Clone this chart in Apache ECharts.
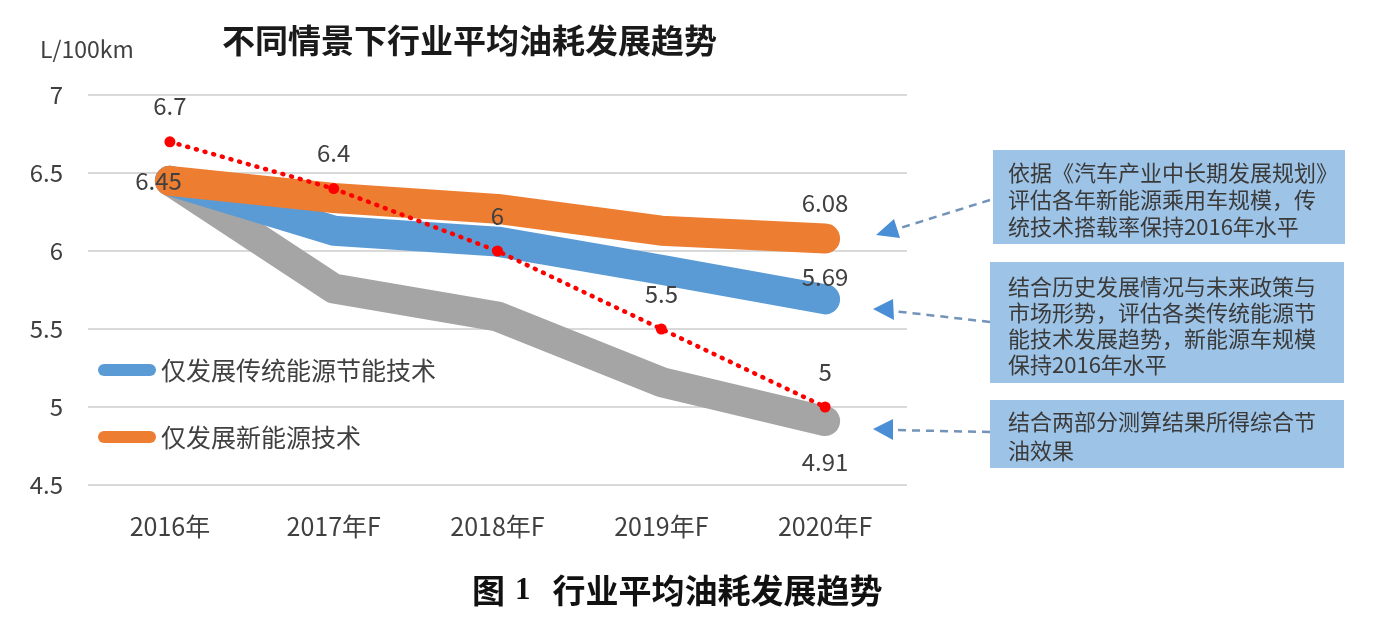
<!DOCTYPE html>
<html>
<head>
<meta charset="utf-8">
<script src="https://cdn.jsdelivr.net/npm/echarts@6/dist/echarts.min.js"></script>
<style>
html,body{margin:0;padding:0;background:#fff;}
#chart{width:1380px;height:619px;}
</style>
</head>
<body>
<div id="chart"></div>
<script>
const categories = ['2016年', '2017年F', '2018年F', '2019年F', '2020年F'];
const yTicks = [4.5, 5, 5.5, 6, 6.5, 7];
const traditionalOnly = [6.45, 6.13, 6.06, 5.88, 5.69];   // 仅发展传统能源节能技术
const newEnergyOnly = [6.45, 6.34, 6.27, 6.13, 6.08];     // 仅发展新能源技术
const combined = [6.45, 5.76, 5.58, 5.16, 4.91];          // 综合
const target = [6.7, 6.4, 6, 5.5, 5];                     // 目标

const FONT = '"Noto Sans CJK SC","Noto Sans",sans-serif';
const LABEL_COLOR = '#404040';
const labelBase = {show: true, color: LABEL_COLOR, fontSize: 24, fontFamily: FONT};

function withLabels(arr, spec) {
  return arr.map((v, i) => spec[i] ? {value: v, label: Object.assign({}, labelBase, spec[i])} : v);
}

const chart = echarts.init(document.getElementById('chart'));
const thick = (name, data, color, spec) => ({
  name: name, type: 'line', data: withLabels(data, spec),
  symbol: 'circle', symbolSize: 1, showSymbol: true,
  itemStyle: {color: color},
  lineStyle: {color: color, width: 30, cap: 'round', join: 'round'},
  label: {show: false},
  emphasis: {disabled: true},
  silent: true
});

chart.setOption({
  animation: false,
  backgroundColor: '#fff',
  grid: {left: 88, right: 473, top: 95, bottom: 134},
  legend: {
    orient: 'vertical', left: 93, top: 352, itemGap: 41,
    itemWidth: 58, itemHeight: 13,
    textStyle: {fontSize: 25, color: LABEL_COLOR, fontFamily: FONT, lineHeight: 26},
    data: [
      {name: '仅发展传统能源节能技术', icon: 'path://M6,0L52,0A6,6,0,0,1,52,12L6,12A6,6,0,0,1,6,0Z', itemStyle: {color: '#5b9bd5'}},
      {name: '仅发展新能源技术', icon: 'path://M6,0L52,0A6,6,0,0,1,52,12L6,12A6,6,0,0,1,6,0Z', itemStyle: {color: '#ed7d31'}}
    ],
    selectedMode: false
  },
  xAxis: {
    type: 'category', data: categories, boundaryGap: true,
    axisLine: {show: false}, axisTick: {show: false},
    axisLabel: {color: LABEL_COLOR, fontSize: 25, fontFamily: FONT, margin: 29}
  },
  yAxis: {
    type: 'value', min: yTicks[0], max: yTicks[yTicks.length - 1], interval: 0.5,
    axisLine: {show: false}, axisTick: {show: false},
    axisLabel: {color: LABEL_COLOR, fontSize: 24, fontFamily: FONT, margin: 25},
    splitLine: {lineStyle: {color: '#d9d9d9', width: 2}}
  },
  series: [
    thick('综合', combined, '#a5a5a5', {0: {position: 'left', distance: -12.5}, 4: {position: 'bottom', distance: 28}}),
    thick('仅发展传统能源节能技术', traditionalOnly, '#5b9bd5', {4: {position: 'top', distance: 10}}),
    thick('仅发展新能源技术', newEnergyOnly, '#ed7d31', {4: {position: 'top', distance: 23}}),
    {
      name: '目标', type: 'line', data: target,
      symbol: 'circle', symbolSize: 11,
      itemStyle: {color: '#ff0000'},
      lineStyle: {color: '#ff0000', width: 4.5, type: [1, 8], cap: 'round'},
      label: Object.assign({}, labelBase, {position: 'top', distance: 18}),
      emphasis: {disabled: true},
      silent: true
    }
  ],
  graphic: [
    {type: 'text', left: 40, top: 38, style: {text: 'L/100km', font: '23px ' + FONT, fill: LABEL_COLOR}},
    {type: 'text', left: 222, top: 24, style: {text: '不同情景下行业平均油耗发展趋势', font: 'bold 33px ' + FONT, fill: '#1a1a1a'}},
    {type: 'rect', shape: {x: 993, y: 150, width: 352, height: 94}, style: {fill: '#9dc3e6'}},
    {type: 'rect', shape: {x: 990, y: 262, width: 354, height: 121}, style: {fill: '#9dc3e6'}},
    {type: 'rect', shape: {x: 990, y: 400, width: 354, height: 68}, style: {fill: '#9dc3e6'}},
    {type: 'text', x: 1008, y: 159, style: {text: '依据《汽车产业中长期发展规划》\n评估各年新能源乘用车规模，传\n统技术搭载率保持2016年水平', font: '22px ' + FONT, fill: '#3a3a3a', lineHeight: 27}},
    {type: 'text', x: 1008, y: 274, style: {text: '结合历史发展情况与未来政策与\n市场形势，评估各类传统能源节\n能技术发展趋势，新能源车规模\n保持2016年水平', font: '22px ' + FONT, fill: '#3a3a3a', lineHeight: 26}},
    {type: 'text', x: 1008, y: 407, style: {text: '结合两部分测算结果所得综合节\n油效果', font: '22px ' + FONT, fill: '#3a3a3a', lineHeight: 29}},
    {type: 'polyline', shape: {points: [[990, 200], [897, 229]]}, style: {stroke: '#7393b8', lineWidth: 2.5, lineDash: [8, 6], fill: null}},
    {type: 'polyline', shape: {points: [[990, 322], [893, 311]]}, style: {stroke: '#7393b8', lineWidth: 2.5, lineDash: [8, 6], fill: null}},
    {type: 'polyline', shape: {points: [[990, 432], [893, 430]]}, style: {stroke: '#7393b8', lineWidth: 2.5, lineDash: [8, 6], fill: null}},
    {type: 'polygon', shape: {points: [[876, 235], [900, 238], [894, 219]]}, style: {fill: '#4a8ed6'}},
    {type: 'polygon', shape: {points: [[873, 309], [893, 299], [894, 320]]}, style: {fill: '#4a8ed6'}},
    {type: 'polygon', shape: {points: [[873, 429], [893, 419], [893, 440]]}, style: {fill: '#4a8ed6'}},
    {type: 'text', left: 472, top: 574, style: {
      text: '{a|图}{b|1}{a|行业平均油耗发展趋势}',
      rich: {
        a: {font: 'bold 33px ' + FONT, fill: '#111'},
        b: {font: 'bold 31px "Liberation Serif",serif', fill: '#111', padding: [0, 22, 0, 10]}
      }
    }}
  ]
});
</script>
</body>
</html>
